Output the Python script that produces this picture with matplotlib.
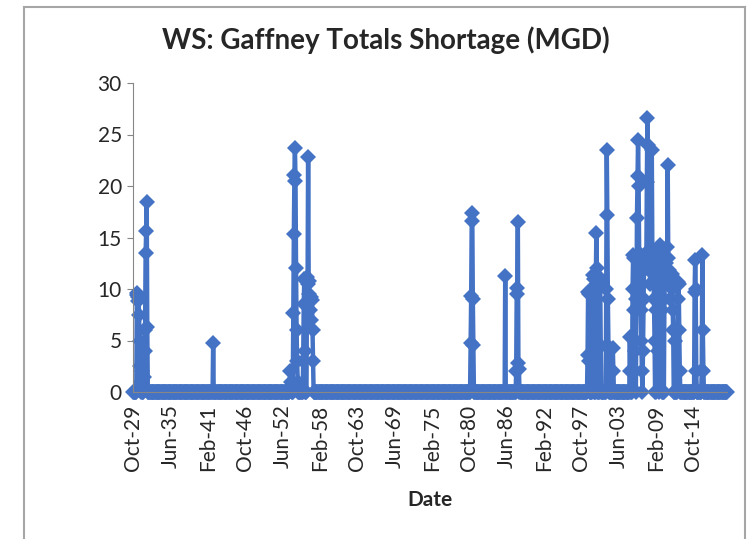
import numpy as np
import pandas as pd
import matplotlib
matplotlib.use("Agg")
import matplotlib.pyplot as plt
from matplotlib.lines import Line2D

plt.rcParams['font.family'] = ['Lato', 'DejaVu Sans']

# monthly record, Oct 1929 - Dec 2019; months not listed are 0
first_month = "1929-10"
last_month = "2019-12"

shortage_months = [
    "1930-05", "1930-06", "1930-07", "1930-08", "1930-09", "1930-10", "1930-11",
    "1931-01", "1931-03", "1931-06", "1931-07", "1931-08", "1931-09", "1931-10",
    "1931-11", "1931-12",
    "1941-12",
    "1953-08", "1953-09", "1953-10", "1954-02", "1954-03", "1954-04", "1954-05",
    "1954-06", "1954-07", "1954-08", "1954-09", "1954-10",
    "1955-08", "1955-09", "1955-10", "1955-11",
    "1956-03", "1956-04", "1956-05", "1956-06", "1956-07", "1956-08", "1956-09",
    "1956-10", "1956-11", "1956-12", "1957-01", "1957-02",
    "1981-01", "1981-02", "1981-03", "1981-04", "1981-05", "1981-06",
    "1986-04",
    "1987-12", "1988-01", "1988-02", "1988-03", "1988-04", "1988-05",
    "1998-10", "1998-11", "1998-12", "1999-01", "1999-07", "1999-08", "1999-09",
    "2000-01", "2000-02", "2000-03", "2000-08", "2000-09", "2000-10",
    "2001-08", "2001-09", "2001-10", "2001-11", "2001-12",
    "2002-08", "2002-09",
    "2005-03", "2005-04", "2005-08", "2005-09", "2005-10", "2005-11", "2005-12",
    "2006-01", "2006-03", "2006-04", "2006-05", "2006-06", "2006-07", "2006-08",
    "2006-09", "2006-10", "2006-11", "2006-12", "2007-01",
    "2007-03", "2007-04", "2007-05", "2007-06", "2007-07", "2007-08", "2007-09",
    "2007-10", "2007-11", "2007-12", "2008-01", "2008-02", "2008-03", "2008-04",
    "2008-05", "2008-06", "2008-07", "2008-08", "2008-09", "2008-10", "2008-11",
    "2008-12", "2009-03", "2009-04", "2009-05", "2009-06", "2009-07",
    "2009-09", "2009-10", "2009-11", "2009-12", "2010-01",
    "2010-06", "2010-07", "2010-08", "2010-09", "2010-10", "2010-11", "2010-12",
    "2011-01", "2011-02", "2011-03", "2011-04", "2011-05", "2011-06", "2011-07",
    "2011-08", "2011-09", "2011-10", "2012-01",
    "2012-06", "2012-07", "2012-08", "2012-09", "2012-10",
    "2015-01", "2015-02", "2015-03", "2015-04",
    "2016-02", "2016-03", "2016-04", "2016-05",
]

shortage_values = [
    9.6, 9.4, 8.8, 9.2, 7.5, 5.0, 2.5,
    1.0, 2.0, 1.5, 4.0, 6.0, 13.5, 15.6,
    18.4, 6.3,
    4.8,
    2.0, 1.0, 0.5, 7.7, 15.3, 21.1, 23.7,
    20.5, 12.0, 6.0, 3.0, 1.0,
    3.0, 8.5, 11.0, 4.0,
    11.2, 10.5, 22.8, 10.8, 9.5, 8.0, 8.9,
    7.0, 9.2, 8.9, 6.0, 3.0,
    4.8, 9.3, 16.6, 17.4, 9.0, 4.6,
    11.3,
    2.0, 10.1, 9.5, 16.5, 2.8, 2.2,
    3.6, 9.7, 9.5, 3.0, 10.0, 11.4, 11.0,
    10.5, 15.4, 12.0, 10.8, 11.1, 4.5,
    10.0, 23.5, 17.2, 9.0, 4.5,
    4.3, 2.0,
    5.3, 2.0, 10.0, 13.3, 13.0, 8.0, 4.0,
    2.0, 9.0, 16.9, 21.0, 24.5, 20.0, 13.5,
    13.0, 12.0, 8.0, 5.0, 2.0,
    4.0, 9.0, 13.0, 12.5, 13.4, 13.0, 12.0,
    20.4, 26.6, 24.0, 13.5, 12.8, 13.0, 10.5,
    12.0, 13.2, 23.5, 13.6, 13.0, 11.5, 9.0,
    5.0, 8.0, 13.1, 12.5, 9.0, 4.0,
    10.0, 14.3, 13.5, 12.0, 8.0,
    9.0, 12.0, 13.0, 12.5, 13.0, 14.1, 22.0,
    13.0, 11.8, 11.0, 10.5, 9.0, 11.0, 11.5,
    10.0, 8.0, 6.0, 5.0,
    9.0, 10.7, 10.5, 6.0, 2.0,
    9.7, 12.8, 10.0, 2.0,
    2.1, 13.3, 6.0, 2.0,
]

TICK_EVERY = 68  # Excel category label interval
BLUE = "#4472C4"
TEXT = "#262626"

dates = pd.period_range(first_month, last_month, freq="M")
series = pd.Series(0.0, index=dates)
series[pd.PeriodIndex(shortage_months, freq="M")] = shortage_values

x = np.arange(len(series))

fig = plt.figure(figsize=(7.53, 5.39), dpi=100)
ax = fig.add_axes([133 / 753, 1 - 392 / 539, (727 - 133) / 753, (392 - 83) / 539])

ax.plot(x, series.values, color=BLUE, linewidth=3.2, marker="D",
        markersize=8.5, markeredgewidth=0, clip_on=False)

ax.set_xlim(0, len(series) - 1)
ax.set_ylim(0, 30)
ax.set_yticks(range(0, 31, 5))

tick_pos = x[::TICK_EVERY]
ax.set_xticks(tick_pos)
ax.set_xticklabels([dates[i].strftime("%b-%y") for i in tick_pos], rotation=90)

ax.tick_params(axis="y", labelsize=15, length=4, color="#868686", pad=4,
               labelcolor=TEXT)
ax.tick_params(axis="x", labelsize=15, length=4, color="#868686", pad=5,
               labelcolor=TEXT)

for side in ("top", "right"):
    ax.spines[side].set_visible(False)
for side in ("left", "bottom"):
    ax.spines[side].set_color("#868686")

ax.set_xlabel("Date", fontsize=15, fontweight="bold", labelpad=14, color=TEXT)
fig.text(386 / 753, 1 - 40 / 539, "WS: Gaffney Totals Shortage (MGD)",
         ha="center", va="center", fontsize=20, fontweight="bold", color=TEXT)

# outer chart frame
frame = dict(color="#A6A6A6", linewidth=1.5, transform=fig.transFigure)
fig.add_artist(Line2D([24 / 753, 24 / 753], [0, 1 - 7 / 539], **frame))
fig.add_artist(Line2D([745 / 753, 745 / 753], [0, 1 - 7 / 539], **frame))
fig.add_artist(Line2D([24 / 753, 745 / 753], [1 - 7 / 539, 1 - 7 / 539], **frame))

fig.savefig("out.png", dpi=100)
